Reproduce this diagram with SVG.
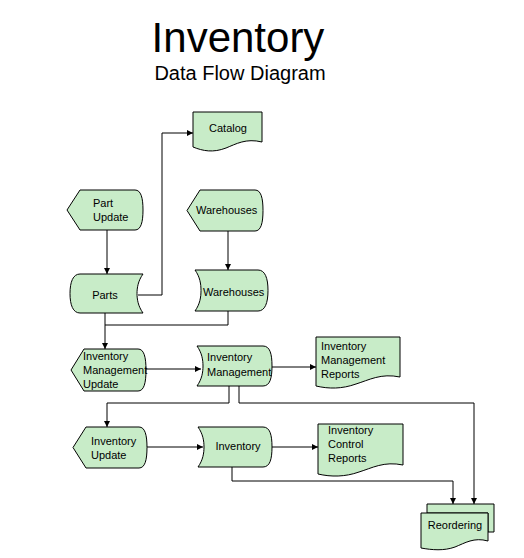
<svg xmlns="http://www.w3.org/2000/svg" width="524" height="558" viewBox="0 0 524 558">
<style>
.s{fill:#c8ecc8;stroke:#000;stroke-width:1}
.t{font-family:"Liberation Sans",Arial,sans-serif;font-size:11px;fill:#000}
.m{text-anchor:middle}
.c{fill:none;stroke:#000;stroke-width:1}
</style>
<defs>
<marker id="a" markerWidth="6" markerHeight="6" refX="6" refY="3" orient="auto" markerUnits="userSpaceOnUse">
<path d="M0,0 L6,3 L0,6 Z" fill="#000"/>
</marker>
</defs>
<rect width="524" height="558" fill="#fff"/>
<g id="title">
<text x="238" y="52" font-family="Liberation Sans,Arial,sans-serif" font-size="42" text-anchor="middle">Inventory</text>
<text x="240" y="80" font-family="Liberation Sans,Arial,sans-serif" font-size="20" text-anchor="middle">Data Flow Diagram</text>
</g>
<g id="connectors">
<path class="c" d="M107,230 V274" marker-end="url(#a)"/>
<path class="c" d="M138,295 H162 V133 H193" marker-end="url(#a)"/>
<path class="c" d="M228,231 V270" marker-end="url(#a)"/>
<path class="c" d="M105,313 V349" marker-end="url(#a)"/>
<path class="c" d="M228,311 V325 H105"/>
<path class="c" d="M146,369 H201" marker-end="url(#a)"/>
<path class="c" d="M272,367 H316" marker-end="url(#a)"/>
<path class="c" d="M229,386 V403 H107 V427" marker-end="url(#a)"/>
<path class="c" d="M239,386 V403 H474 V504" marker-end="url(#a)"/>
<path class="c" d="M147,447 H203" marker-end="url(#a)"/>
<path class="c" d="M272,447 H318" marker-end="url(#a)"/>
<path class="c" d="M232,467 V481 H453 V504" marker-end="url(#a)"/>
</g>
<g id="catalog">
<path class="s" d="M193,112 H262 V142 C246,138 236,144 226,148 C213,153 203,151 193,147 Z"/>
<text class="t m" x="228" y="132">Catalog</text>
</g>
<g id="part-update">
<path class="s" d="M80,190 H135 C141,190 143,198 143,210 C143,222 141,230 135,230 H80 L67,210 Z"/>
<text class="t" x="93" y="207">Part</text>
<text class="t" x="93" y="221">Update</text>
</g>
<g id="warehouses-update">
<path class="s" d="M200,190 H255 C261,190 263,198 263,210.5 C263,223 261,231 255,231 H200 L187,210.5 Z"/>
<text class="t" x="196" y="214">Warehouses</text>
</g>
<g id="parts">
<path class="s" d="M80,274 H143 C138,281 137,288 137,293.5 C137,299 138,306 143,313 H80 C73,313 70,305 70,293.5 C70,282 73,274 80,274 Z"/>
<text class="t m" x="105" y="299">Parts</text>
</g>
<g id="warehouses">
<path class="s" d="M195,270 H258 C265,270 268,278 268,290.5 C268,303 265,311 258,311 H195 C200,304 201,297 201,290.5 C201,284 200,277 195,270 Z"/>
<text class="t" x="203" y="296">Warehouses</text>
</g>
<g id="inventory-management-update">
<path class="s" d="M84,349 H138 C144,349 146,357 146,370 C146,383 144,391 138,391 H84 L71,370 Z"/>
<text class="t" x="83" y="360">Inventory</text>
<text class="t" x="83" y="374">Management</text>
<text class="t" x="83" y="388">Update</text>
</g>
<g id="inventory-management">
<path class="s" d="M197,346 H263 C270,346 272,354 272,366 C272,378 270,386 263,386 H197 C202,379 203,372 203,366 C203,360 202,353 197,346 Z"/>
<text class="t" x="207" y="361">Inventory</text>
<text class="t" x="207" y="376">Management</text>
</g>
<g id="inventory-management-reports">
<path class="s" d="M316,337 H400 V377 C381,373 369,380 356,384 C342,389 329,389 316,386 Z"/>
<text class="t" x="321" y="350">Inventory</text>
<text class="t" x="321" y="364">Management</text>
<text class="t" x="321" y="378">Reports</text>
</g>
<g id="inventory-update">
<path class="s" d="M86,427 H139 C145,427 147,435 147,447.5 C147,460 145,468 139,468 H86 L73,447.5 Z"/>
<text class="t" x="91" y="445">Inventory</text>
<text class="t" x="91" y="459">Update</text>
</g>
<g id="inventory">
<path class="s" d="M198,427 H263 C270,427 272,435 272,447 C272,459 270,467 263,467 H198 C203,460 204,453 204,447 C204,441 203,434 198,427 Z"/>
<text class="t m" x="238" y="450">Inventory</text>
</g>
<g id="inventory-control-reports">
<path class="s" d="M318,424 H403 V465 C384,461 372,468 359,472 C345,477 331,477 318,474 Z"/>
<text class="t" x="328" y="434">Inventory</text>
<text class="t" x="328" y="448">Control</text>
<text class="t" x="328" y="462">Reports</text>
</g>
<g id="reordering">
<path class="s" d="M427,504 H494 V532 L488,532 V513 H427 Z"/>
<path class="s" d="M421,513 H488 V541 C474,537 465,543 455,547 C444,551 432,550 421,548 Z"/>
<text class="t m" x="455" y="529">Reordering</text>
</g>
</svg>
